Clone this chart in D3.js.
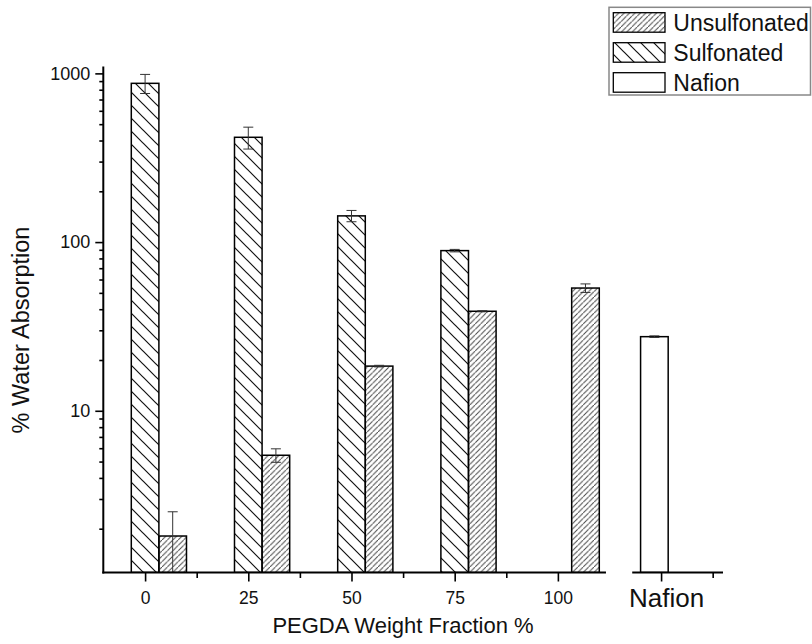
<!DOCTYPE html>
<html>
<head>
<meta charset="utf-8">
<script src="https://cdn.jsdelivr.net/npm/d3@7"></script>
<style>
  body { margin: 0; background: #fff; }
  svg { font-family: "Liberation Sans", Arial, sans-serif; }
</style>
</head>
<body>
<svg id="chart"></svg>
<script>
// categories (PEGDA weight fraction) + the Nafion reference
const categories = ["0", "25", "50", "75", "100", "Nafion"];
const sulfonated = [873, 418, 143, 89, null];
const sulfonatedErr = [113, 62, 11, 1.5, null];
const unsulfonated = [1.81, 5.45, 18.4, 38.9, 53.4];
const unsulfonatedErr = [0.71, 0.5, 0.2, 0.3, 3.1];
const nafion = [27.5];
const nafionErr = [0.3];
const yTicks = [10, 100, 1000];
const legendNames = ["Unsulfonated", "Sulfonated", "Nafion"];

const width = 812, height = 644;
const svg = d3.select("#chart").attr("width", width).attr("height", height);

// hatch patterns
const defs = svg.append("defs");
defs.append("pattern").attr("id", "sulf")
  .attr("patternUnits", "userSpaceOnUse").attr("width", 13).attr("height", 13)
  .append("path")
  .attr("d", "M-3,-3 L16,16 M-3,10 L3,16 M10,-3 L16,3")
  .attr("stroke", "#111").attr("stroke-width", 1.2);
defs.append("pattern").attr("id", "unsulf")
  .attr("patternUnits", "userSpaceOnUse").attr("width", 5.4).attr("height", 5.4)
  .append("path")
  .attr("d", "M-1,6.4 L6.4,-1 M-2,1.4 L1.4,-2 M4,7.4 L7.4,4")
  .attr("stroke", "#444").attr("stroke-width", 1);

// scales: x is category index (with an axis break before Nafion)
const x = d3.scaleLinear().domain([-0.405, 5.6]).range([103.3, 723]);
const y = d3.scaleLog().domain([1.1, 1100]).range([572.5, 66.4]);
const y0 = y.range()[0];
const barW = 27.6;

defs.append("clipPath").attr("id", "plot")
  .append("rect").attr("x", 100).attr("y", 40).attr("width", 640).attr("height", y0 - 40);

const plot = svg.append("g").attr("clip-path", "url(#plot)");

function drawBar(left, v, fill) {
  plot.append("rect")
    .attr("x", left).attr("y", y(v))
    .attr("width", barW).attr("height", y0 - y(v))
    .attr("fill", fill).attr("stroke", "#000").attr("stroke-width", 1.5);
}

function drawErr(cx, v, e) {
  const top = y(v + e);
  const bot = v - e > y.domain()[0] ? y(v - e) : y0;
  const g = plot.append("g").attr("stroke", "#333").attr("stroke-width", 1);
  g.append("line").attr("x1", cx).attr("x2", cx).attr("y1", top).attr("y2", bot);
  g.append("line").attr("x1", cx - 5).attr("x2", cx + 5).attr("y1", top).attr("y2", top);
  if (v - e > y.domain()[0])
    g.append("line").attr("x1", cx - 5).attr("x2", cx + 5).attr("y1", bot).attr("y2", bot);
}

sulfonated.forEach((v, i) => {
  if (v == null) return;
  drawBar(x(i) - barW / 2, v, "url(#sulf)");
});
unsulfonated.forEach((v, i) => {
  drawBar(x(i) + barW / 2, v, "url(#unsulf)");
});
nafion.forEach(v => drawBar(x(5) - 20.5, v, "#fff"));

sulfonated.forEach((v, i) => {
  if (v == null) return;
  drawErr(x(i), v, sulfonatedErr[i]);
});
unsulfonated.forEach((v, i) => drawErr(x(i) + barW, v, unsulfonatedErr[i]));
nafion.forEach((v, i) => drawErr(x(5) - 20.5 + barW / 2, v, nafionErr[i]));

// y axis
const minorY = [];
[1, 10, 100].forEach(d => { for (let k = 2; k <= 9; k++) minorY.push(d * k); });
svg.append("g").attr("transform", "translate(103.3,0)")
  .call(d3.axisLeft(y).tickValues(minorY).tickSize(4).tickSizeOuter(0).tickFormat(""))
  .call(g => g.select(".domain").remove())
  .call(g => g.selectAll("line").attr("stroke-width", 1.6));
const yAx = svg.append("g").attr("transform", "translate(103.3,0)")
  .call(d3.axisLeft(y).tickValues(yTicks).tickSize(8).tickSizeOuter(0).tickPadding(5)
    .tickFormat(d3.format("d")));
yAx.select(".domain").attr("stroke-width", 2).attr("d", `M0,${y0 + 1}V66.4`);
yAx.selectAll("line").attr("stroke-width", 1.6);
yAx.selectAll("text").attr("font-size", 18).attr("fill", "#111")
  .attr("font-family", "Liberation Sans, Arial, sans-serif");

// x axis with a break
const segments = [[-0.405, 4.466], [4.73, 5.6]];
segments.forEach(s => {
  svg.append("line")
    .attr("x1", x(s[0]) - 1).attr("x2", x(s[1]))
    .attr("y1", y0).attr("y2", y0)
    .attr("stroke", "#000").attr("stroke-width", 2);
});
const minorX = [0.5, 1.5, 2.5, 3.5, 5.5];
svg.append("g").attr("transform", `translate(0,${y0})`)
  .call(d3.axisBottom(x).tickValues(minorX).tickSize(5.5).tickFormat(""))
  .call(g => g.select(".domain").remove())
  .call(g => g.selectAll("line").attr("stroke-width", 1.6));
const xAx = svg.append("g").attr("transform", `translate(0,${y0})`)
  .call(d3.axisBottom(x).tickValues(d3.range(categories.length)).tickSize(9)
    .tickPadding(10).tickFormat(i => categories[i]));
xAx.select(".domain").remove();
xAx.selectAll("line").attr("stroke-width", 1.6);
xAx.selectAll("text").attr("font-size", 17.5).attr("fill", "#111")
  .attr("font-family", "Liberation Sans, Arial, sans-serif");
xAx.selectAll("text").filter(i => categories[i] === "Nafion")
  .attr("font-size", 26).attr("dx", 5).attr("dy", "0.6em");

// axis titles
svg.append("text")
  .attr("x", 403).attr("y", 633)
  .attr("text-anchor", "middle").attr("font-size", 22).attr("fill", "#111")
  .text("PEGDA Weight Fraction %");
svg.append("text")
  .attr("transform", "translate(29,330) rotate(-90)")
  .attr("text-anchor", "middle").attr("font-size", 23.5).attr("fill", "#111")
  .text("% Water Absorption");

// legend
const legend = svg.append("g");
legend.append("rect")
  .attr("x", 609).attr("y", 7.3).attr("width", 201.5).attr("height", 87.7)
  .attr("fill", "#fff").attr("stroke", "#888").attr("stroke-width", 1.5);
const fills = ["url(#unsulf)", "url(#sulf)", "#fff"];
legendNames.forEach((name, k) => {
  const base = 30.7 + k * 30;
  legend.append("rect")
    .attr("x", 613.3).attr("y", base - 18).attr("width", 51.7).attr("height", 19.5)
    .attr("fill", fills[k]).attr("stroke", "#000").attr("stroke-width", 1.3);
  legend.append("text")
    .attr("x", 673.3).attr("y", base)
    .attr("font-size", 23).attr("fill", "#111")
    .text(name);
});
</script>
</body>
</html>
